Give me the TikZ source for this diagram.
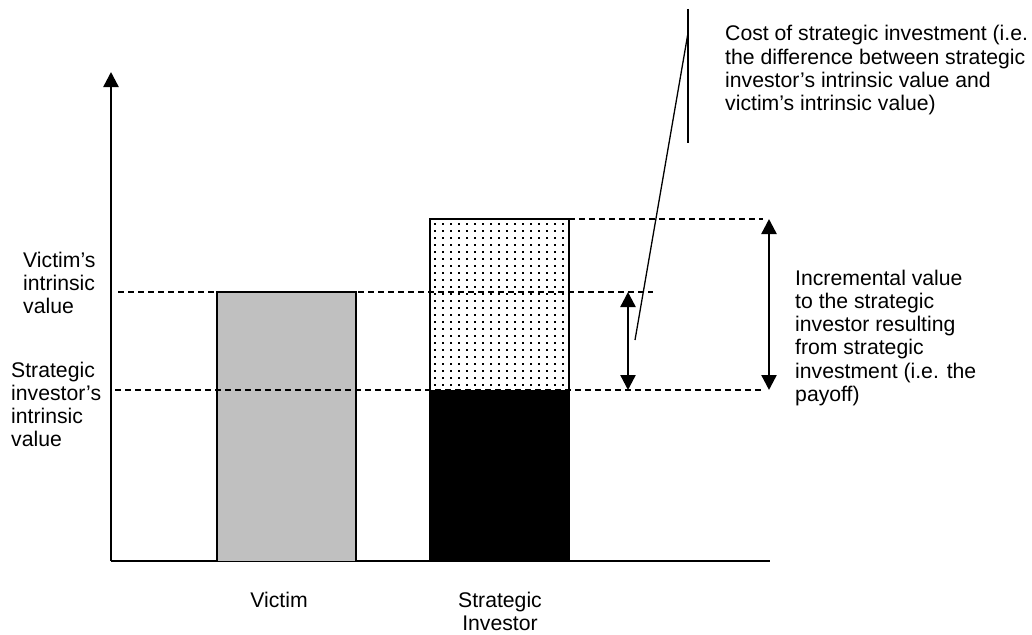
\documentclass[tikz,border=0pt]{standalone}
\usepackage{fontspec}
\setmainfont{Liberation Sans}
\usetikzlibrary{arrows.meta}
\definecolor{bargray}{HTML}{C0C0C0}
\tikzset{
  lbl/.style={inner sep=0pt, font=\fontsize{21.2}{23.3}\selectfont},
  guide/.style={line width=1.2pt, dash pattern=on 6pt off 4pt},
  axisline/.style={line width=2.4pt},
  barbox/.style={draw=black, line width=1.5pt},
  dbl/.style={line width=2.4pt, {Triangle[length=15pt,width=15pt]}-{Triangle[length=15pt,width=15pt]}},
  callout/.style={line width=1.3pt}
}
\begin{document}
\begin{tikzpicture}[x=1pt,y=-1pt]
\useasboundingbox (0,0) rectangle (1032,634);
% axes
\coordinate (O) at (111,561);
\coordinate (Ytop) at (111,72);
\coordinate (Xend) at (770,561);
\draw[axisline, -{Triangle[length=15pt,width=15pt]}] (O) -- (Ytop);
\draw[axisline] (O) -- (Xend);
% victim bar
\fill[bargray] (217,292) rectangle (356,561);
\draw[barbox] (217,561) -- (217,292) -- (356,292) -- (356,561);
% strategic investor bar
\fill[white] (430,219) rectangle (569,390);
\foreach \i in {0,...,16}{
  \foreach \j in {0,...,23}{
    \fill[black] (434+\i*8,223+\j*7) rectangle ++(2,2);
  }
}
\fill[black] (430,390) rectangle (569,561);
\draw[barbox] (430,561) -- (430,219) -- (569,219) -- (569,561);
% guide lines
\coordinate (gv1) at (118,292);
\coordinate (gv2) at (653,292);
\coordinate (gs1) at (115,390);
\coordinate (gs2) at (763,390);
\coordinate (gt1) at (569,219);
\coordinate (gt2) at (763,219);
\draw[guide] (gv1) -- (gv2);
\draw[guide] (gs1) -- (gs2);
\draw[guide] (gt1) -- (gt2);
% double arrows
\coordinate (a1t) at (628,292);
\coordinate (a1b) at (628,390);
\coordinate (a2t) at (769,219);
\coordinate (a2b) at (769,390);
\draw[dbl] (a1t) -- (a1b);
\draw[dbl] (a2t) -- (a2b);
% callout
\coordinate (c1) at (688,9);
\coordinate (c2) at (688,143);
\coordinate (c3) at (688,33);
\coordinate (c4) at (635,340);
\draw[callout] (c1) -- (c2);
\draw[callout] (c3) -- (c4);
% texts
\node[lbl, anchor=base west] (cost) at (725,41) {\vtop{\hbox{Cost of strategic investment (i.e.}\hbox{the difference between strategic}\hbox{investor’s intrinsic value and}\hbox{victim’s intrinsic value)}}};
\node[lbl, anchor=base west] (incr) at (795,285) {\vtop{\hbox{Incremental value}\hbox{to the strategic}\hbox{investor resulting}\hbox{from strategic}\hbox{investment (i.e. the}\hbox{payoff)}}};
\node[lbl, anchor=base west] (vlab) at (23,267) {\vtop{\hbox{Victim’s}\hbox{intrinsic}\hbox{value}}};
\node[lbl, anchor=base west] (slab) at (11,377) {\vtop{\hbox{Strategic}\hbox{investor’s}\hbox{intrinsic}\hbox{value}}};
\node[lbl, anchor=base] (victim) at (279,607) {Victim};
\node[lbl, anchor=base] (sinv) at (500,607) {\vtop{\halign{\hfil#\hfil\cr Strategic\cr Investor\cr}}};
\end{tikzpicture}
\end{document}
